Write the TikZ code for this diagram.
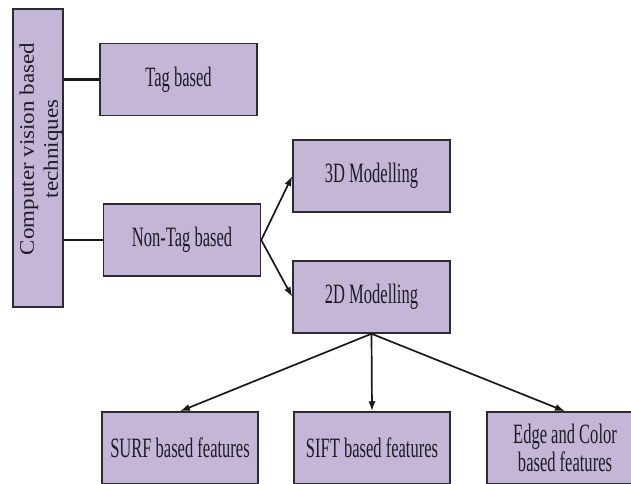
\documentclass[tikz,border=0pt]{standalone}
\usepackage{graphicx}
\usepackage{fontspec}
\setmainfont{Liberation Serif}
\usetikzlibrary{arrows.meta}

\definecolor{boxpurple}{HTML}{C4B6D6}
\definecolor{boxline}{HTML}{2E2A33}
\definecolor{inkdark}{HTML}{1E1B26}

% condensed text, upright and sideways
\newcommand{\narrow}[1]{\scalebox{0.59}[1]{#1}}
\newcommand{\squat}[1]{\scalebox{1}[0.9]{#1}}

\begin{document}
\begin{tikzpicture}[x=1pt,y=-1pt,
        box/.style = {rectangle, draw=boxline, fill=boxpurple, line width=1.5pt,
            minimum width=157pt, minimum height=72pt, inner sep=0pt},
        txt/.style = {text=inkdark, font=\fontsize{28}{28}\selectfont, align=center},
        link/.style = {line width=2.2pt, draw=black!90},
        arr/.style = {line width=1.7pt, draw=black!90, -{Latex[length=10pt,width=7pt]}}]
        \useasboundingbox (0,0) rectangle (631,483);
        \clip (0,0) rectangle (631,483);

        \node[box,rotate=90,minimum width=298pt,minimum height=50pt] (cv) at (38,158) {};
        \node[txt,rotate=90,font=\fontsize{23}{24}\selectfont] (cvtext) at (41,149) {\squat{Computer vision based}\\\squat{techniques}};

        \node[box,txt] (tag) at (178.5,79.5) {\narrow{Tag based}};
        \node[box,txt] (nontag) at (182,240) {\narrow{Non-Tag based}};
        \node[box,txt] (m3d) at (371.5,176) {\narrow{3D Modelling}};
        \node[box,txt] (m2d) at (371.5,297) {\narrow{2D Modelling}};

        \node[box,txt,minimum width=156pt] (surf) at (180,448) {\narrow{SURF based features}};
        \node[box,txt,minimum width=156pt] (sift) at (372,448) {\narrow{SIFT based features}};
        \node[box,txt,minimum width=156pt] (edge) at (565,448) {\narrow{Edge and Color}\\\narrow{based features}};

        \draw[link] (cv.south |- tag.west) -- (tag.west);
        \draw[link] (cv.south |- nontag.west) -- (nontag.west);

        \draw[arr] (nontag.east) -- (m3d.west);
        \draw[arr] (nontag.east) -- (m2d.west);

        \draw[arr] (m2d.south) -- (surf.north);
        \draw[arr] (m2d.south) -- (sift.north);
        \draw[arr] (m2d.south) -- (edge.north);
    \end{tikzpicture}
\end{document}
